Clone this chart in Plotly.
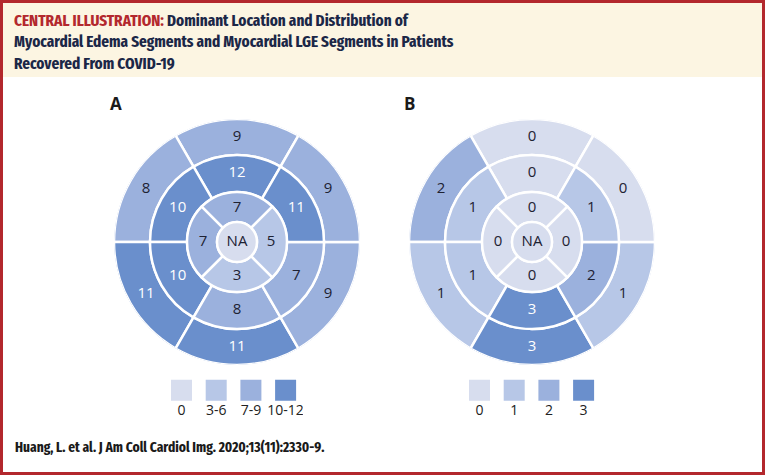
import plotly.graph_objects as go

W, H = 765, 475

# ---------------- data ----------------
ring_segments = ["anterior", "anteroseptal", "inferoseptal", "inferior", "inferolateral", "anterolateral"]
ring_angles = [90, 150, 210, 270, 330, 30]
apical_segments = ["anterior", "septal", "inferior", "lateral"]
apical_angles = [90, 180, 270, 0]

edema_basal = [9, 8, 11, 11, 9, 9]
edema_mid = [12, 10, 10, 8, 7, 11]
edema_apical = [7, 7, 3, 5]

lge_basal = [0, 2, 1, 3, 1, 0]
lge_mid = [0, 1, 1, 3, 2, 1]
lge_apical = [0, 0, 0, 0]

apex_label = "NA"

legend_a_labels = ["0", "3-6", "7-9", "10-12"]
legend_b_labels = ["0", "1", "2", "3"]

# ---------------- style ----------------
PALETTE = ["#d7ddee", "#b7c7e7", "#9bb1dd", "#6a8fcc"]
DARK_TXT = "#1e2233"
R_APEX, R_APICAL, R_MID, R_BASAL = 20, 50, 87, 123
RED = "#b3282d"
NAVY = "#1b2747"
COND = "Fira Sans Extra Condensed, Fira Sans Condensed, Roboto Condensed, sans-serif"


def level_a(v):
    if v == 0:
        return 0
    if v <= 6:
        return 1
    if v <= 9:
        return 2
    return 3


def level_b(v):
    return int(v)


fig = go.Figure()


def add_bullseye(polar_id, basal, mid, apical, lvl):
    rings = [
        (basal, ring_angles, 60, R_MID, R_BASAL),
        (mid, ring_angles, 60, R_APICAL, R_MID),
        (apical, apical_angles, 90, R_APEX, R_APICAL),
    ]
    for vals, angs, wid, r0, r1 in rings:
        lv = [lvl(v) for v in vals]
        fig.add_trace(go.Barpolar(
            theta=angs, r=[r1 - r0] * len(vals), base=[r0] * len(vals),
            width=[wid] * len(vals),
            marker=dict(color=[PALETTE[l] for l in lv], line=dict(color="white", width=2.5)),
            subplot=polar_id, hoverinfo="skip", showlegend=False))
        fig.add_trace(go.Scatterpolar(
            theta=angs, r=[(r0 + r1) / 2 + (-1 if wid == 90 else 0)] * len(vals),
            mode="text", text=[str(v) for v in vals],
            textfont=dict(family="Open Sans", size=15,
                          color=["white" if l == 3 else DARK_TXT for l in lv]),
            subplot=polar_id, hoverinfo="skip", showlegend=False))
    # apex
    fig.add_trace(go.Barpolar(
        theta=[0], r=[R_APEX], base=[0], width=[360],
        marker=dict(color=PALETTE[0], line=dict(color="white", width=2.5)),
        subplot=polar_id, hoverinfo="skip", showlegend=False))
    fig.add_trace(go.Scatterpolar(
        theta=[0], r=[0], mode="text", text=[apex_label],
        textfont=dict(family="Open Sans", size=15, color=DARK_TXT),
        subplot=polar_id, hoverinfo="skip", showlegend=False))


add_bullseye("polar", edema_basal, edema_mid, edema_apical, level_a)
add_bullseye("polar2", lge_basal, lge_mid, lge_apical, level_b)


def add_legend(xa, ya, labels):
    idx = list(range(len(labels)))
    fig.add_trace(go.Scatter(
        x=idx, y=[0.66] * len(idx), mode="markers",
        marker=dict(symbol="square", size=21, color=PALETTE, line=dict(width=0)),
        xaxis=xa, yaxis=ya, hoverinfo="skip", showlegend=False))
    fig.add_trace(go.Scatter(
        x=idx, y=[0.18] * len(idx), mode="text", text=labels,
        textfont=dict(family="Open Sans", size=14, color="#222222"),
        xaxis=xa, yaxis=ya, hoverinfo="skip", showlegend=False))


add_legend("x", "y", legend_a_labels)
add_legend("x2", "y2", legend_b_labels)


def px_x(v):
    return v / W


def px_y(v):
    return 1 - v / H


def polar_layout(cx, cy):
    return dict(
        domain=dict(x=[px_x(cx - R_BASAL), px_x(cx + R_BASAL)],
                    y=[px_y(cy + R_BASAL), px_y(cy - R_BASAL)]),
        bgcolor="rgba(0,0,0,0)",
        radialaxis=dict(range=[0, R_BASAL], visible=False),
        angularaxis=dict(visible=False, rotation=0, direction="counterclockwise"),
        hole=0,
    )


STEP = 34.7
axis_common = dict(visible=False, fixedrange=True, range=[-0.5, 3.5])
yax_common = dict(visible=False, fixedrange=True, range=[0, 1])
legA_c0 = 181.5
legB_c0 = 479.5

fig.update_layout(
    width=W, height=H,
    margin=dict(l=0, r=0, t=0, b=0),
    paper_bgcolor="white", plot_bgcolor="rgba(0,0,0,0)",
    polar=polar_layout(237, 242),
    polar2=polar_layout(532, 242),
    xaxis=dict(domain=[px_x(legA_c0 - STEP / 2), px_x(legA_c0 + 3.5 * STEP)], **axis_common),
    yaxis=dict(domain=[px_y(420), px_y(375)], **yax_common),
    xaxis2=dict(domain=[px_x(legB_c0 - STEP / 2), px_x(legB_c0 + 3.5 * STEP)], anchor="y2", **axis_common),
    yaxis2=dict(domain=[px_y(420), px_y(375)], anchor="x2", **yax_common),
    showlegend=False,
    shapes=[
        dict(type="rect", xref="paper", yref="paper", x0=0, x1=1, y0=px_y(77), y1=1,
             fillcolor="#fcf5e2", line=dict(width=0), layer="below"),
        dict(type="rect", xref="paper", yref="paper", x0=px_x(1.5), x1=px_x(W - 1.5),
             y0=px_y(H - 1.5), y1=px_y(1.5),
             fillcolor="rgba(0,0,0,0)", line=dict(color=RED, width=3), layer="above"),
    ],
    annotations=[
        dict(xref="paper", yref="paper", x=px_x(12), y=px_y(9), xanchor="left", yanchor="top",
             align="left", showarrow=False,
             text=("<b><span style='color:%s'>CENTRAL ILLUSTRATION:</span> "
                   "Dominant Location and Distribution of<br>"
                   "Myocardial Edema Segments and Myocardial LGE Segments in Patients<br>"
                   "Recovered From COVID-19</b>") % RED,
             font=dict(family=COND, size=16.5, color=NAVY)),
        dict(xref="paper", yref="paper", x=px_x(108), y=px_y(103), xanchor="left", yanchor="middle",
             showarrow=False, text="<b>A</b>",
             font=dict(family="Open Sans", size=17, color="#1a1a1a")),
        dict(xref="paper", yref="paper", x=px_x(402), y=px_y(103), xanchor="left", yanchor="middle",
             showarrow=False, text="<b>B</b>",
             font=dict(family="Open Sans", size=17, color="#1a1a1a")),
        dict(xref="paper", yref="paper", x=px_x(13), y=px_y(447), xanchor="left", yanchor="middle",
             showarrow=False, text="<b>Huang, L. et al. J Am Coll Cardiol Img. 2020;13(11):2330-9.</b>",
             font=dict(family=COND, size=14.6, color="#1a1a1a")),
    ],
)

fig.write_html("out.html", config={"displayModeBar": False},
               post_script="document.body.style.margin='0';")
